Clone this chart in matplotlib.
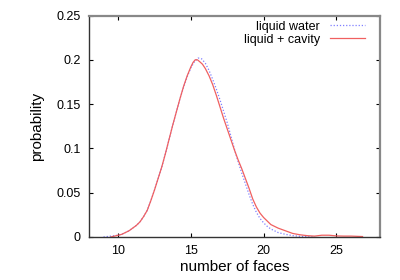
import matplotlib
matplotlib.use("Agg")
import matplotlib.pyplot as plt

plt.rcParams['font.family'] = ['Liberation Sans', 'DejaVu Sans']

# 数据：分布
x_water = [9.0, 9.5, 10.0, 10.25, 10.5, 10.75, 11.0, 11.25, 11.5, 11.75, 12.0, 12.25,
           12.5, 12.75, 13.0, 13.25, 13.5, 13.75, 14.0, 14.25, 14.5, 14.75, 15.0,
           15.25, 15.5, 15.75, 16.0, 16.25, 16.5, 16.75, 17.0, 17.25, 17.5, 17.75,
           18.0, 18.25, 18.5, 18.75, 19.0, 19.25, 19.5, 19.75, 20.0, 20.25, 20.5,
           21.0, 21.5, 22.0, 22.5, 23.0, 23.5]
p_water = [0.0, 0.001, 0.002, 0.003, 0.005, 0.007, 0.010, 0.013, 0.017, 0.023, 0.030,
           0.041, 0.053, 0.066, 0.079, 0.094, 0.110, 0.126, 0.141, 0.156, 0.169, 0.181,
           0.191, 0.198, 0.202, 0.201, 0.196, 0.188, 0.178, 0.167, 0.155, 0.142, 0.129,
           0.114, 0.099, 0.085, 0.072, 0.060, 0.048, 0.037, 0.028, 0.021, 0.016, 0.012,
           0.009, 0.005, 0.003, 0.0015, 0.0008, 0.0003, 0.0]

x_cavity = [9.5, 9.75, 10.0, 10.25, 10.5, 10.75, 11.0, 11.25, 11.5, 11.75, 12.0, 12.25,
            12.5, 12.75, 13.0, 13.25, 13.5, 13.75, 14.0, 14.25, 14.5, 14.75, 15.0,
            15.15, 15.3, 15.45, 15.6, 15.8, 16.0, 16.25, 16.5, 16.75, 17.0, 17.25,
            17.5, 17.75, 18.0, 18.25, 18.5, 18.75, 19.0, 19.25, 19.5, 19.75, 20.0,
            20.25, 20.5, 20.75, 21.0, 21.5, 22.0, 22.5, 23.0, 23.5, 24.0, 24.5, 25.0,
            25.5, 26.0, 26.8]
p_cavity = [0.0, 0.001, 0.002, 0.003, 0.005, 0.007, 0.010, 0.013, 0.017, 0.023, 0.030,
            0.041, 0.053, 0.066, 0.079, 0.094, 0.110, 0.126, 0.141, 0.156, 0.170, 0.182,
            0.192, 0.197, 0.200, 0.200, 0.198, 0.195, 0.190, 0.182, 0.172, 0.160, 0.147,
            0.134, 0.122, 0.110, 0.098, 0.087, 0.077, 0.066, 0.055, 0.043, 0.034, 0.027,
            0.022, 0.018, 0.014, 0.012, 0.010, 0.007, 0.004, 0.0025, 0.0015, 0.001,
            0.002, 0.002, 0.0012, 0.001, 0.001, 0.0005]

xticks = [10, 15, 20, 25]
yticks = [0, 0.05, 0.1, 0.15, 0.2, 0.25]
ylabels = ["0", "0.05", "0.1", "0.15", "0.2", "0.25"]

fig = plt.figure(figsize=(4, 2.8), dpi=100)
ax = fig.add_axes([0.2225, 0.1536, 0.7275, 0.791])

ax.plot(x_water, p_water, color="#7f7fff", lw=0.9, ls=(0, (1, 1.5)), label="liquid water")
ax.plot(x_cavity, p_cavity, color="#f06060", lw=0.9, label="liquid + cavity")

ax.set_xlim(8, 28)
ax.set_ylim(0, 0.25)
ax.set_xticks(xticks)
ax.set_yticks(yticks)
ax.set_yticklabels(ylabels)
ax.tick_params(direction="in", top=True, right=True, length=3, width=0.8,
               labelsize=9, pad=6)
for side in ["top", "right"]:
    ax.spines[side].set_color("#888888")
    ax.spines[side].set_linewidth(1.6)
for side in ["left", "bottom"]:
    ax.spines[side].set_color("#333333")
    ax.spines[side].set_linewidth(1.0)

ax.set_xlabel("number of faces", fontsize=11, labelpad=2)
ax.set_ylabel("probability", fontsize=11, labelpad=9)

ax.legend(loc="upper right", bbox_to_anchor=(0.966, 1.0), frameon=False, fontsize=9,
          markerfirst=False, handlelength=2.8, borderaxespad=0.1, borderpad=0.3,
          labelspacing=0.1, handletextpad=0.8)

fig.savefig("out.png", dpi=100)
